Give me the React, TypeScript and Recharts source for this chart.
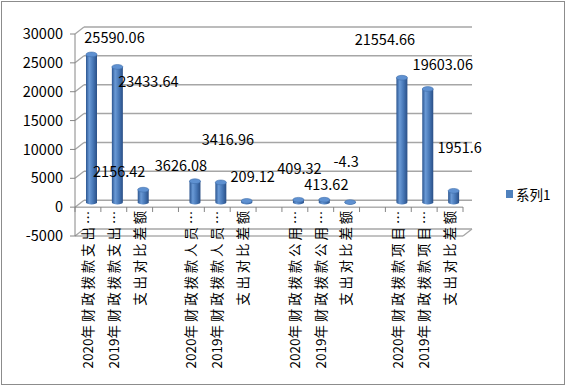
import React from 'react';
import { BarChart, Bar, XAxis, YAxis, CartesianGrid, LabelList, Legend, ReferenceLine } from 'recharts';

// ---- data ----
const categories: string[] = [
  '2020年财政拨款支出…', '2019年财政拨款支出…', '支出对比差额', '',
  '2020年财政拨款人员…', '2019年财政拨款人员…', '支出对比差额', '',
  '2020年财政拨款公用…', '2019年财政拨款公用…', '支出对比差额', '',
  '2020年财政拨款项目…', '2019年财政拨款项目…', '支出对比差额',
];
const series1: (number | null)[] = [
  25590.06, 23433.64, 2156.42, null,
  3626.08, 3416.96, 209.12, null,
  409.32, 413.62, -4.3, null,
  21554.66, 19603.06, 1951.6,
];
const yTicks: number[] = [-5000, 0, 5000, 10000, 15000, 20000, 25000, 30000];
const seriesName = '系列1';

// label placement (Excel 3D-style), relative to bar centre / bar top, per category
const labelOffsets: [number, number][] = [
  [27, -16], [35, 15], [-20, -18], [0, 0],
  [-10, -15], [11, -42], [10, -24], [0, 0],
  [5, -31], [6, -15], [0, -40], [0, 0],
  [-13, -38], [19, -24], [10, -43],
];

const data = categories.map((name, i) => ({ name, value: series1[i] }));

// ---- layout / style ----
const W = 568;
const H = 386;
const PLOT_LEFT = 75;
const PLOT_RIGHT = 463;
const PLOT_TOP = 34;
const PLOT_BOTTOM = 236;
const BAND = (PLOT_RIGHT - PLOT_LEFT) / categories.length;
const DEPTH_X = 9;
const DEPTH_Y = 7;
const BAR_SHIFT_X = 4;
const BAR_SHIFT_Y = -5;
const AXIS_COLOR = '#868686';
const GRID_COLOR = '#a6a6a6';
const FONT = '"Noto Sans CJK SC", "Noto Sans", sans-serif';
const BAR_COLOR = '#4F81BD';

const GridLine = (p: any) => {
  const { x1, x2, y1 } = p;
  return (
    <g>
      <line x1={x1} y1={y1} x2={x1 + DEPTH_X} y2={y1 - DEPTH_Y} stroke={GRID_COLOR} strokeWidth={1.3} />
      <line x1={x1 + DEPTH_X} y1={y1 - DEPTH_Y} x2={x2 + DEPTH_X} y2={y1 - DEPTH_Y} stroke={GRID_COLOR} strokeWidth={1.5} />
    </g>
  );
};

const Cylinder = (props: any) => {
  const { x, y, width, height, index, payload } = props;
  if (!payload || payload.value == null) return null;
  const top = Math.min(y, y + height) + BAR_SHIFT_Y;
  const h = Math.abs(height);
  const left = x + BAR_SHIFT_X;
  const rx = width / 2;
  const ry = 2.4;
  const cx = left + rx;
  const id = `cylGrad${index}`;
  return (
    <g>
      <defs>
        <linearGradient id={id} x1="0" y1="0" x2="1" y2="0">
          <stop offset="0" stopColor="#2b5590" />
          <stop offset="0.3" stopColor="#6a9ad6" />
          <stop offset="0.65" stopColor="#4676b5" />
          <stop offset="1" stopColor="#2a4f86" />
        </linearGradient>
      </defs>
      <path
        d={`M${left},${top} L${left},${top + h} A${rx},${ry} 0 0 0 ${left + width},${top + h} L${left + width},${top} Z`}
        fill={`url(#${id})`}
      />
      <ellipse cx={cx} cy={top} rx={rx} ry={ry} fill="#5f91d1" stroke="#3f6eab" strokeWidth={0.6} />
    </g>
  );
};

const ValueLabel = (props: any) => {
  const { value } = props;
  if (value == null || value === '') return null;
  const vb = props.viewBox || props;
  const { x, y, width, height } = vb;
  const cat = series1.indexOf(Number(value));
  const off = labelOffsets[cat] || [0, -6];
  const top = Math.min(y, y + height);
  return (
    <text x={x + width / 2 + off[0]} y={top + off[1]} textAnchor="middle" fontSize={14.5} fontFamily={FONT} fill="#000">
      {String(value)}
    </text>
  );
};

const XTick = (props: any) => {
  const { x, y, payload, index } = props;
  const label: string = payload && payload.value != null ? String(payload.value) : '';
  const m = label.match(/^(\d*)(.*)$/) || ['', '', label];
  const half = BAND / 2;
  const axisY = y - 29;
  const last = index === categories.length - 1;
  return (
    <g>
      <line x1={x - half} y1={axisY} x2={x - half} y2={axisY + 5} stroke={AXIS_COLOR} />
      {last && <line x1={x + half} y1={axisY} x2={x + half} y2={axisY + 5} stroke={AXIS_COLOR} />}
      {last && <line x1={x + half} y1={y} x2={x + half + DEPTH_X} y2={y - DEPTH_Y} stroke={GRID_COLOR} strokeWidth={1.3} />}
      {label !== '' && (
        <text
          transform={`translate(${x},${y - 28}) rotate(-90)`}
          textAnchor="end"
          dy="0.36em"
          fontSize={13.5}
          fontFamily={FONT}
          fill="#000"
        >
          <tspan>{m[1]}</tspan>
          <tspan letterSpacing={2.8}>{m[2]}</tspan>
        </text>
      )}
    </g>
  );
};

const LegendContent = () => (
  <div style={{ display: 'flex', alignItems: 'center', fontFamily: FONT, fontSize: 13.5, color: '#000', whiteSpace: 'nowrap' }}>
    <span style={{ display: 'inline-block', width: 7, height: 8, background: BAR_COLOR, marginRight: 3 }} />
    <span>{seriesName}</span>
  </div>
);

export default function App() {
  return (
    <div style={{ position: 'absolute', left: 0, top: 0, width: W, height: H, background: '#fff' }}>
      <div
        style={{
          position: 'absolute', left: 1, top: 1, width: 564, height: 384,
          boxSizing: 'border-box', border: '1px solid #8c8c8c',
        }}
      />
      <div style={{ position: 'absolute', left: 0, top: 0 }}>
        <BarChart
          width={W}
          height={H}
          data={data}
          margin={{ top: PLOT_TOP, right: W - PLOT_RIGHT, bottom: H - PLOT_BOTTOM - 30, left: 0 }}
          barSize={11}
        >
          <CartesianGrid horizontal={GridLine as any} vertical={false} />
          <YAxis
            width={PLOT_LEFT}
            domain={[-5000, 30000]}
            ticks={yTicks}
            interval={0}
            allowDataOverflow
            axisLine={{ stroke: AXIS_COLOR }}
            tickLine={{ stroke: AXIS_COLOR }}
            tickSize={5}
            tickMargin={7}
            tick={{ fontSize: 14.5, fill: '#000', fontFamily: FONT }}
          />
          <XAxis
            dataKey="name"
            height={30}
            interval={0}
            axisLine={{ stroke: AXIS_COLOR }}
            tickLine={false}
            tickSize={0}
            tickMargin={0}
            tick={<XTick />}
          />
          <ReferenceLine y={0} stroke={AXIS_COLOR} />
          <Legend
            layout="horizontal"
            align="center"
            verticalAlign="middle"
            wrapperStyle={{ left: 506, top: 184, width: 'auto' }}
            content={<LegendContent />}
          />
          <Bar dataKey="value" name={seriesName} fill={BAR_COLOR} shape={<Cylinder />} isAnimationActive={false}>
            <LabelList dataKey="value" content={<ValueLabel />} />
          </Bar>
        </BarChart>
      </div>
    </div>
  );
}
